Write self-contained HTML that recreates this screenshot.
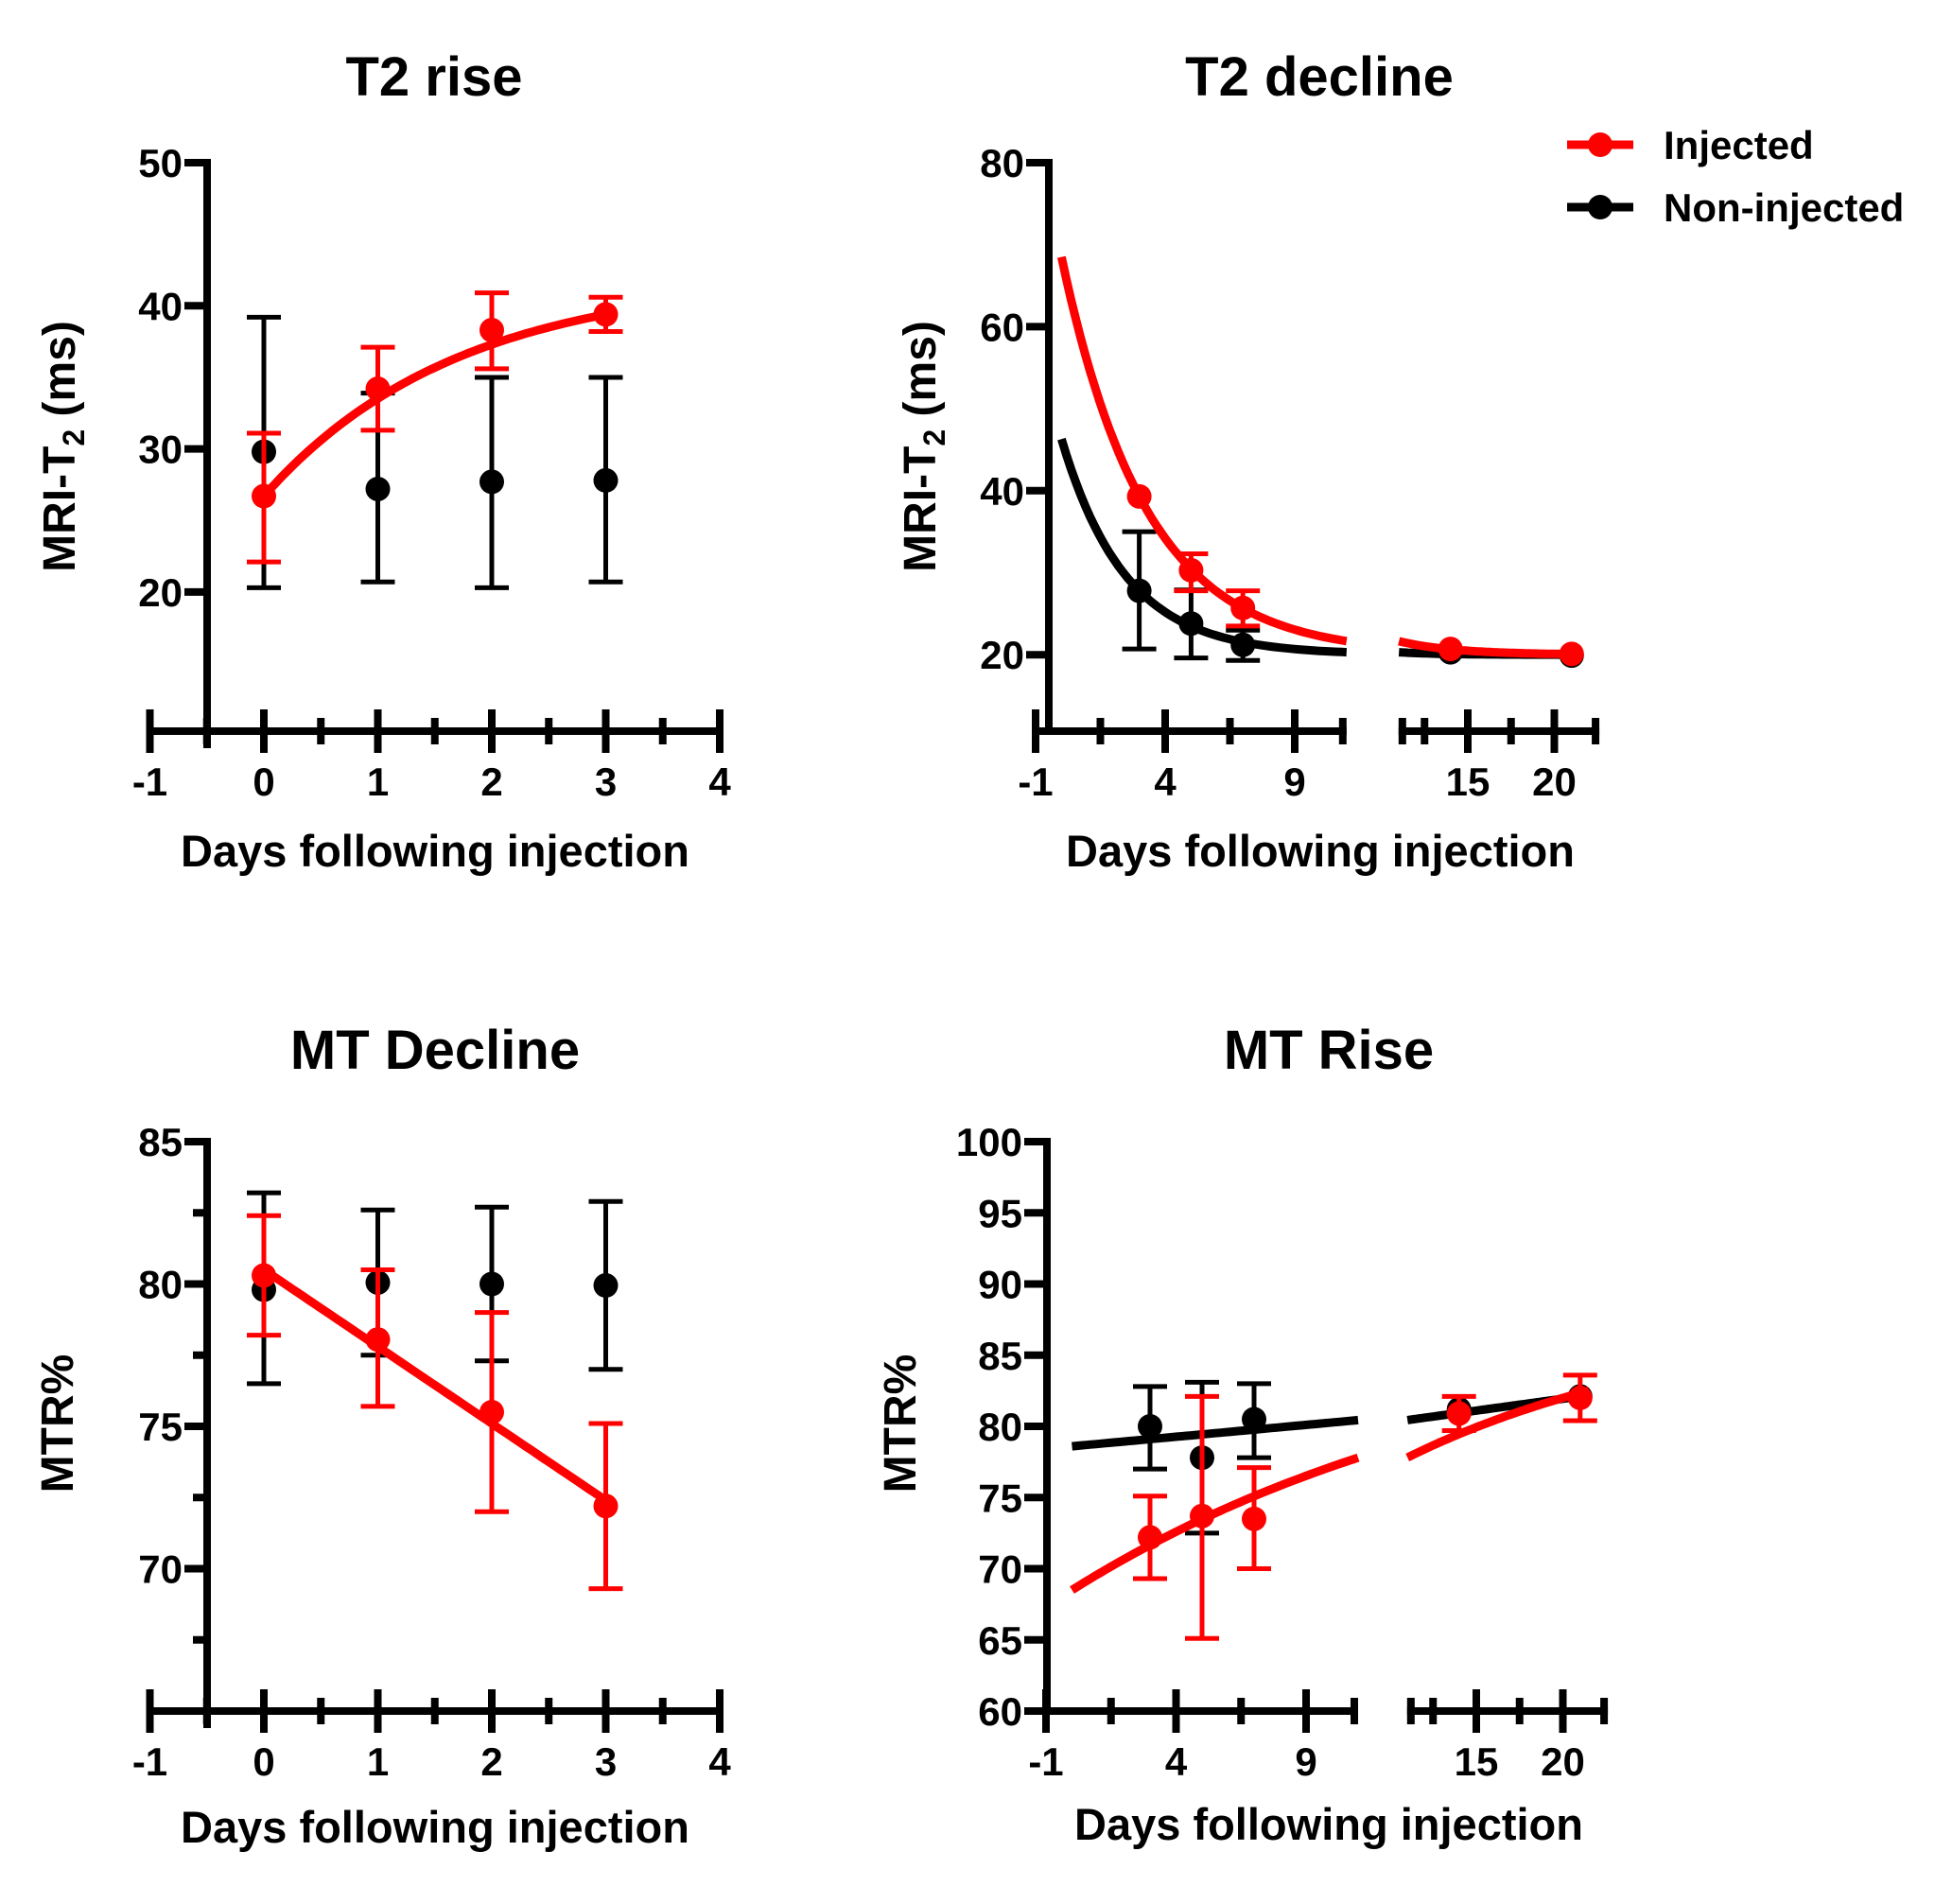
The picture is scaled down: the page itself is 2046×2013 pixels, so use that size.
<!DOCTYPE html>
<html><head><meta charset="utf-8"><style>
html,body{margin:0;padding:0;background:#fff;}
svg{display:block;font-family:"Liberation Sans",Arial,sans-serif;font-weight:bold;}
</style></head><body>
<svg id="fig" width="2046" height="2013" xmlns="http://www.w3.org/2000/svg"></svg>
<script>
// ---------- Panel 1: T2 rise ----------
const p1Days = [0, 1, 2, 3];
const p1InjMean = [26.7, 34.2, 38.3, 39.4];
const p1InjLo = [22.1, 31.3, 35.6, 38.2];
const p1InjHi = [31.1, 37.1, 40.9, 40.6];
const p1NonMean = [29.8, 27.2, 27.7, 27.8];
const p1NonLo = [20.3, 20.7, 20.3, 20.7];
const p1NonHi = [39.2, 33.9, 35.0, 35.0];
const p1InjFit = [42, 15.3, 0.59]; // plateau, span, k (rise)
const p1YTicks = [20, 30, 40, 50];
const p1XTicks = [-1, 0, 1, 2, 3, 4];

// ---------- Panel 2: T2 decline ----------
const p2Days = [3, 5, 7, 14, 21];
const p2InjMean = [39.3, 30.3, 25.7, 20.7, 20.1];
const p2InjLo = [39.3, 27.8, 23.5, 20.7, 20.1];
const p2InjHi = [39.3, 32.3, 27.8, 20.7, 20.1];
const p2NonMean = [27.8, 23.8, 21.2, 20.3, 19.9];
const p2NonLo = [20.7, 19.6, 19.3, 20.3, 19.9];
const p2NonHi = [35.0, 27.9, 23.0, 20.3, 19.9];
const p2InjFit = [20, 48.5, 0.307]; // plateau, span, k (decay)
const p2NonFit = [20, 26.3, 0.405];
const p2YTicks = [20, 40, 60, 80];
const p2XLabels = [-1, 4, 9, 15, 20];

// ---------- Panel 3: MT Decline ----------
const p3Days = [0, 1, 2, 3];
const p3InjMean = [80.3, 78.05, 75.5, 72.2];
const p3InjLo = [78.2, 75.7, 72.0, 69.3];
const p3InjHi = [82.4, 80.5, 79.0, 75.1];
const p3NonMean = [79.8, 80.05, 80.0, 79.95];
const p3NonLo = [76.5, 77.5, 77.3, 77.0];
const p3NonHi = [83.2, 82.6, 82.7, 82.9];
const p3InjLine = [80.5, -2.7]; // intercept, slope
const p3YTicks = [70, 75, 80, 85];
const p3YMinor = [67.5, 72.5, 77.5, 82.5];

// ---------- Panel 4: MT Rise ----------
const p4Days = [3, 5, 7, 14, 21];
const p4InjMean = [72.2, 73.7, 73.5, 80.9, 82.0];
const p4InjLo = [69.3, 65.1, 70.0, 79.7, 80.4];
const p4InjHi = [75.1, 82.1, 77.1, 82.1, 83.6];
const p4NonMean = [80.0, 77.8, 80.5, 81.2, 82.1];
const p4NonLo = [77.0, 72.5, 77.8, 81.2, 82.1];
const p4NonHi = [82.8, 83.1, 83.0, 81.2, 82.1];
const p4InjFit = [88, 19.5, 0.0589]; // plateau, span, k (rise)
const p4NonLine = [78.6, 0.167];
const p4YTicks = [60, 65, 70, 75, 80, 85, 90, 95, 100];

const NS = "http://www.w3.org/2000/svg";
const svg = document.getElementById('fig');
const RED = "#ff0000", BLK = "#000000";
const AXW = 8, CW = 9, MR = 13, TICKF = 42;

function mk(tag, attrs, parent) {
  const e = document.createElementNS(NS, tag);
  for (const k in attrs) e.setAttribute(k, attrs[k]);
  (parent || svg).appendChild(e);
  return e;
}
function line(g, x1, y1, x2, y2, color, w) {
  return mk('line', {x1, y1, x2, y2, stroke: color, 'stroke-width': w}, g);
}
function text(g, x, y, str, size, anchor) {
  const t = mk('text', {x, y, 'font-size': size, 'text-anchor': anchor || 'middle', fill: '#000'}, g);
  t.textContent = str;
  return t;
}
function group(name) {
  const g = mk('g', {});
  
  
  return g;
}
function path(g, pts, color, w) {
  const d = pts.map((p, i) => (i ? 'L' : 'M') + p[0].toFixed(1) + ' ' + p[1].toFixed(1)).join(' ');
  return mk('path', {d, fill: 'none', stroke: color, 'stroke-width': w}, g);
}
function series(g, name, days, mean, lo, hi, color, X, Y) {
  const sg = mk('g', {}, g);
  
  
  days.forEach((d, i) => {
    const x = X(d);
    if (hi[i] - lo[i] > 0.01) {
      const eb = line(sg, x, Y(lo[i]), x, Y(hi[i]), color, 5);
      
      
      line(sg, x - 18, Y(lo[i]), x + 18, Y(lo[i]), color, 5);
      line(sg, x - 18, Y(hi[i]), x + 18, Y(hi[i]), color, 5);
    }
    const c = mk('circle', {cx: x, cy: Y(mean[i]), r: MR, fill: color}, sg);
    
    
  });
}
function curve(g, name, f, x0, x1, color, X, Y) {
  const pts = [];
  for (let i = 0; i <= 60; i++) { const v = x0 + (x1 - x0) * i / 60; pts.push([X(v), Y(f(v))]); }
  const p = path(g, pts, color, CW);
  
  
}
function titles(g, title, tx, ty, xTitle, xx, xy, yTitleFn) {
  const t = text(g, tx, ty, title, 58);
  
  
  const xt = text(g, xx, xy, xTitle, 47);
  
  
  yTitleFn(g);
}
function yTitleT2(g, cx, cy) {
  const t = mk('text', {x: 0, y: 0, 'font-size': 48, 'text-anchor': 'middle', transform: `translate(${cx},${cy}) rotate(-90)`}, g);
  
  
  t.appendChild(document.createTextNode('MRI-T'));
  const s = mk('tspan', {'font-size': 32, dy: 10}, t); s.textContent = '2';
  const r = mk('tspan', {dy: -10}, t); r.textContent = ' (ms)';
}
function yTitleMT(g, cx, cy) {
  const t = mk('text', {x: 0, y: 0, 'font-size': 48, 'text-anchor': 'middle', transform: `translate(${cx},${cy}) rotate(-90)`}, g);
  
  
  t.textContent = 'MTR%';
}
function yAxis(g, yAx, top, bottom, ticks, minor, Y) {
  const ya = mk('g', {}, g);
  
  
  line(ya, yAx, top - AXW / 2, yAx, bottom, BLK, AXW);
  ticks.forEach(v => {
    line(ya, yAx - 24, Y(v), yAx, Y(v), BLK, AXW);
    const t = text(ya, yAx - 26, Y(v) + 15, String(v), TICKF, 'end');
    
    
  });
  minor.forEach(v => line(ya, yAx - 15, Y(v), yAx, Y(v), BLK, AXW));
}

// ---------- simple panels (1 & 3) ----------
function simpleXAxis(g, axY, X) {
  const ax = mk('g', {}, g);
  
  
  line(ax, X(-1) - 4, axY, X(4) + 4, axY, BLK, AXW);
  for (let v = -1; v <= 4.001; v += 0.5) {
    const major = Math.abs(v - Math.round(v)) < 1e-6;
    if (major) line(ax, X(v), axY - 23, X(v), axY + 23, BLK, AXW);
    else line(ax, X(v), axY - 14, X(v), axY + 14, BLK, AXW);
  }
  p1XTicks.forEach(v => {
    const t = text(ax, X(v), axY + 68, String(v), TICKF);
    
    
  });
}

// Panel 1
(function () {
  const g = group('panel-t2-rise');
  const yAx = 219, axY = 773;
  const X = v => 158.5 + (v + 1) * 120.5;
  const Y = v => 172 + (50 - v) * 15.13;
  yAxis(g, yAx, 172, axY + 18, p1YTicks, [], Y);
  simpleXAxis(g, axY, X);
  series(g, 'non-injected-series', p1Days, p1NonMean, p1NonLo, p1NonHi, BLK, X, Y);
  curve(g, 'injected-fit-curve', v => p1InjFit[0] - p1InjFit[1] * Math.exp(-p1InjFit[2] * v), 0, 3, RED, X, Y);
  series(g, 'injected-series', p1Days, p1InjMean, p1InjLo, p1InjHi, RED, X, Y);
  titles(g, 'T2 rise', 459, 101, 'Days following injection', 460, 916, gg => yTitleT2(gg, 79, 472));
})();

// Panel 3
(function () {
  const g = group('panel-mt-decline');
  const yAx = 219, axY = 1809;
  const X = v => 158.5 + (v + 1) * 120.5;
  const Y = v => 1207 + (85 - v) * 30.1;
  yAxis(g, yAx, 1207, axY + 18, p3YTicks, p3YMinor, Y);
  simpleXAxis(g, axY, X);
  series(g, 'non-injected-series', p3Days, p3NonMean, p3NonLo, p3NonHi, BLK, X, Y);
  curve(g, 'injected-fit-line', v => p3InjLine[0] + p3InjLine[1] * v, 0, 3, RED, X, Y);
  series(g, 'injected-series', p3Days, p3InjMean, p3InjLo, p3InjHi, RED, X, Y);
  titles(g, 'MT Decline', 460, 1130, 'Days following injection', 460, 1948, gg => yTitleMT(gg, 77, 1505));
})();

// ---------- broken-axis panels (2 & 4) ----------
function brokenX(x0, s1, x15, s2) {
  return v => v <= 11 ? x0 + (v + 1) * s1 : x15 + (v - 15) * s2;
}
function brokenXAxis(g, axY, X, yAxX) {
  const ax = mk('g', {}, g);
  
  
  line(ax, Math.min(X(-1), yAxX) - 4, axY, X(11), axY, BLK, AXW);
  line(ax, X(11.001), axY, X(22.6), axY, BLK, AXW);
  [-1, 4, 9, 15, 20].forEach(v => line(ax, X(v), axY - 23, X(v), axY + 23, BLK, AXW));
  [1.5, 6.5, 12.5, 17.5].forEach(v => line(ax, X(v), axY - 14, X(v), axY + 14, BLK, AXW));
  line(ax, X(11) - 4, axY - 14, X(11) - 4, axY + 14, BLK, AXW);
  line(ax, X(11.001) + 4, axY - 14, X(11.001) + 4, axY + 14, BLK, AXW);
  line(ax, X(22.6) - 4, axY - 14, X(22.6) - 4, axY + 14, BLK, AXW);
  p2XLabels.forEach(v => {
    const t = text(ax, X(v), axY + 68, String(v), TICKF);
    
    
  });
}

// Panel 2
(function () {
  const g = group('panel-t2-decline');
  const yAx = 1109, axY = 773;
  const X = brokenX(1095, 27.4, 1552, 18.3);
  const Y = v => 172 + (80 - v) * 8.67;
  yAxis(g, yAx, 172, axY, p2YTicks, [], Y);
  brokenXAxis(g, axY, X, yAx);
  const fN = v => p2NonFit[0] + p2NonFit[1] * Math.exp(-p2NonFit[2] * v);
  const fI = v => p2InjFit[0] + p2InjFit[1] * Math.exp(-p2InjFit[2] * v);
  curve(g, 'non-injected-fit-curve', fN, 0, 11, BLK, X, Y);
  curve(g, 'non-injected-fit-curve-late', fN, 11.02, 21.5, BLK, X, Y);
  series(g, 'non-injected-series', p2Days, p2NonMean, p2NonLo, p2NonHi, BLK, X, Y);
  curve(g, 'injected-fit-curve', fI, 0, 11, RED, X, Y);
  curve(g, 'injected-fit-curve-late', fI, 11.02, 21.5, RED, X, Y);
  series(g, 'injected-series', p2Days, p2InjMean, p2InjLo, p2InjHi, RED, X, Y);
  titles(g, 'T2 decline', 1395, 101, 'Days following injection', 1396, 916, gg => yTitleT2(gg, 989, 472));

  // legend
  const lg = mk('g', {}, g);
  
  
  const e1 = mk('g', {}, lg);
  
  
  line(e1, 1657, 153, 1727, 153, RED, CW);
  mk('circle', {cx: 1692, cy: 153, r: MR, fill: RED}, e1);
  text(e1, 1759, 168, 'Injected', 42, 'start');
  const e2 = mk('g', {}, lg);
  
  
  line(e2, 1657, 219, 1727, 219, BLK, CW);
  mk('circle', {cx: 1692, cy: 219, r: MR, fill: BLK}, e2);
  text(e2, 1759, 234, 'Non-injected', 42, 'start');
})();

// Panel 4
(function () {
  const g = group('panel-mt-rise');
  const yAx = 1107, axY = 1809;
  const X = brokenX(1106, 27.5, 1561, 18.3);
  const Y = v => 1207 + (100 - v) * 15.05;
  yAxis(g, yAx, 1207, axY, p4YTicks, [], Y);
  brokenXAxis(g, axY, X, yAx);
  const fN = v => p4NonLine[0] + p4NonLine[1] * v;
  const fI = v => p4InjFit[0] - p4InjFit[1] * Math.exp(-p4InjFit[2] * v);
  curve(g, 'non-injected-fit-line', fN, 0, 11, BLK, X, Y);
  curve(g, 'non-injected-fit-line-late', fN, 11.02, 21.5, BLK, X, Y);
  series(g, 'non-injected-series', p4Days, p4NonMean, p4NonLo, p4NonHi, BLK, X, Y);
  curve(g, 'injected-fit-curve', fI, 0, 11, RED, X, Y);
  curve(g, 'injected-fit-curve-late', fI, 11.02, 21.5, RED, X, Y);
  series(g, 'injected-series', p4Days, p4InjMean, p4InjLo, p4InjHi, RED, X, Y);
  titles(g, 'MT Rise', 1405, 1130, 'Days following injection', 1405, 1945, gg => yTitleMT(gg, 968, 1505));
})();
</script>
</body></html>
